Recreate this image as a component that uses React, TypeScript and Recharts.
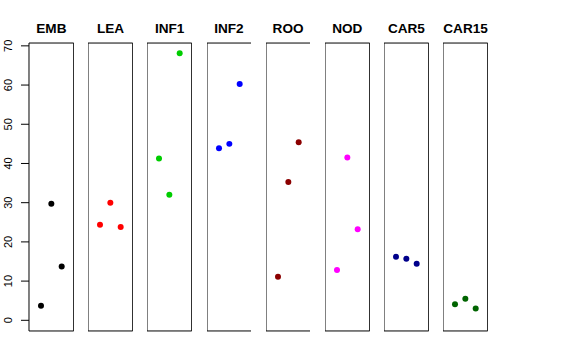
import { ScatterChart, Scatter, XAxis, YAxis, ReferenceArea } from 'recharts';

const tissues = ['EMB', 'LEA', 'INF1', 'INF2', 'ROO', 'NOD', 'CAR5', 'CAR15'];
const replicates = [1, 2, 3];

const embValues = [3.7, 29.7, 13.7];
const leaValues = [24.4, 30.0, 23.8];
const inf1Values = [41.3, 32.0, 68.1];
const inf2Values = [43.9, 45.0, 60.3];
const rooValues = [11.1, 35.3, 45.4];
const nodValues = [12.8, 41.5, 23.2];
const car5Values = [16.2, 15.7, 14.4];
const car15Values = [4.1, 5.5, 3.0];

const seriesValues = [embValues, leaValues, inf1Values, inf2Values, rooValues, nodValues, car5Values, car15Values];
const colors = ['#000000', '#FF0000', '#00CD00', '#0000FF', '#8B0000', '#FF00FF', '#00008B', '#006400'];

const yTicks = [0, 10, 20, 30, 40, 50, 60, 70];

const X_DOMAIN: [number, number] = [-0.16, 4.16];
const Y_DOMAIN: [number, number] = [-2.72, 70.72];

const PANEL_W = 44.7;
const PANEL_STEP = 59.18;
const FIRST_LEFT = 29;
const TOP = 43;
const HEIGHT = 288;
const AXIS_W = 29;
const PAD = 10;

const font = '"Liberation Sans", Arial, Helvetica, sans-serif';

const RotatedTick = (props: any) => {
    const { x, y, payload } = props;
    return (
        <text
            x={x - 7}
            y={y}
            transform={`rotate(-90 ${x - 7} ${y})`}
            textAnchor="middle"
            fontSize={11}
            fontFamily={font}
            fill="#000"
        >
            {payload.value}
        </text>
    );
};

function Panel({ index }: { index: number }) {
    const data = replicates.map((r, i) => ({ x: r, y: seriesValues[index][i] }));
    const withAxis = index === 0;
    const left = FIRST_LEFT + PANEL_STEP * index - (withAxis ? AXIS_W : 0);
    const width = PANEL_W + (withAxis ? AXIS_W : 0);

    return (
        <div style={{ position: 'absolute', left, top: TOP - PAD }}>
            <ScatterChart width={width} height={HEIGHT + PAD * 2} margin={{ top: PAD, right: 0, bottom: PAD, left: 0 }}>
                <XAxis type="number" dataKey="x" domain={X_DOMAIN} hide allowDataOverflow />
                <YAxis
                    type="number"
                    dataKey="y"
                    domain={Y_DOMAIN}
                    ticks={yTicks}
                    hide={!withAxis}
                    width={AXIS_W}
                    axisLine={false}
                    tickLine={{ stroke: '#000' }}
                    tickSize={8}
                    tick={<RotatedTick />}
                    interval={0}
                    allowDataOverflow
                />
                <ReferenceArea
                    x1={X_DOMAIN[0]}
                    x2={X_DOMAIN[1]}
                    y1={Y_DOMAIN[0]}
                    y2={Y_DOMAIN[1]}
                    fill="none"
                    stroke="#000"
                    strokeWidth={1}
                    fillOpacity={0}
                />
                <Scatter
                    data={data}
                    fill={colors[index]}
                    isAnimationActive={false}
                    shape={(p: any) => <circle cx={p.cx} cy={p.cy} r={3} fill={colors[index]} />}
                />
            </ScatterChart>
        </div>
    );
}

export default function App() {
    return (
        <div style={{ position: 'absolute', left: 0, top: 0, width: 576, height: 360, background: '#fff' }}>
            {tissues.map((t, i) => (
                <div
                    key={t}
                    style={{
                        position: 'absolute',
                        left: FIRST_LEFT + PANEL_STEP * i - 20,
                        width: PANEL_W + 40,
                        top: 20,
                        textAlign: 'center',
                        fontFamily: font,
                        fontWeight: 'bold',
                        fontSize: 13.6,
                        lineHeight: '18px',
                        color: '#000',
                    }}
                >
                    {t}
                </div>
            ))}
            {tissues.map((t, i) => (
                <Panel key={t} index={i} />
            ))}
        </div>
    );
}
